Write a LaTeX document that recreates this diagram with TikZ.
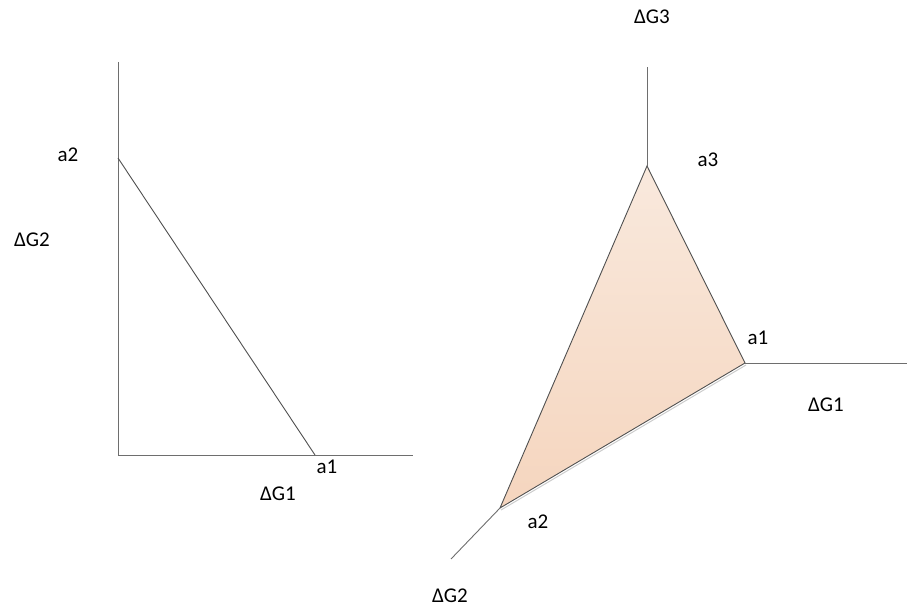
\documentclass[tikz,border=0pt]{standalone}
\usepackage{fontspec}
\setmainfont{Carlito}
\usetikzlibrary{positioning,calc}
\definecolor{axisgray}{RGB}{110,110,110}
\definecolor{edgegray}{RGB}{80,80,80}
\definecolor{fillTop}{RGB}{249,233,221}
\definecolor{fillBot}{RGB}{245,213,190}

\begin{document}
\begin{tikzpicture}[x=1pt,y=-1pt,
    axis/.style={axisgray, line width=0.9pt},
    edge/.style={edgegray, line width=0.9pt},
    lab/.style={font=\fontsize{21}{24}\selectfont, inner sep=0pt}]
    \useasboundingbox (0,0) rectangle (907,607);

    % Left picture: two free energies
    \coordinate (Lo) at (118,455);
    \coordinate (Ltop) at (118,62);
    \coordinate (Lright) at (413,455);
    \coordinate (La2) at (118,158);
    \coordinate (La1) at (315,455);

    \draw[axis] (Ltop) -- (Lo) -- (Lright);
    \draw[edge] (La2) -- (La1);

    \node[lab] (la2) at (68,155) {a2};
    \node[lab] (lg2) at (32,240) {ΔG2};
    \node[lab] (la1) at (327,467) {a1};
    \node[lab] (lg1) at (278,494) {ΔG1};

    % Right picture: three free energies
    \coordinate (Ra3) at (647,166);
    \coordinate (Ra1) at (745,363);
    \coordinate (Ra2) at (500,508);
    \coordinate (Rtop) at (647,67);
    \coordinate (Rright) at (907,363);
    \coordinate (Rdown) at (451,559);

    % Shaded triangle
    \shade[top color=fillTop, bottom color=fillBot] (Ra3) -- (Ra1) -- (Ra2) -- cycle;
    \draw[gray!40, line width=1pt] ($(Ra2)+(1,2)$) -- ($(Ra1)+(1,2)$);
    \draw[edge] (Ra3) -- (Ra1) -- (Ra2) -- cycle;

    % Axes out of the corners
    \draw[axis] (Ra3) -- (Rtop);
    \draw[axis] (Ra1) -- (Rright);
    \draw[axis] (Ra2) -- (Rdown);

    \node[lab] (rg3) at (652,17) {ΔG3};
    \node[lab] (ra3) at (708,160) {a3};
    \node[lab] (ra1) at (758,338) {a1};
    \node[lab] (rg1) at (826,405) {ΔG1};
    \node[lab] (ra2) at (538,522) {a2};
    \node[lab] (rg2) at (450,596) {ΔG2};
\end{tikzpicture}
\end{document}
